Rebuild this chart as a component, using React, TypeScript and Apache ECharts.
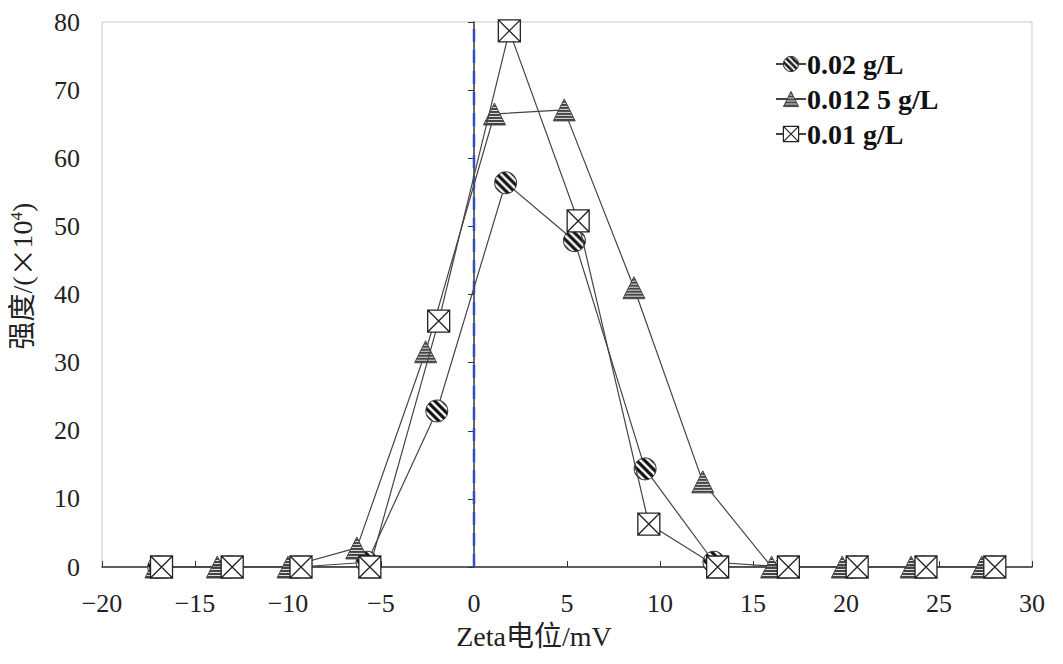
import React, { useEffect, useRef } from "react";
import * as echarts from "echarts";

const seriesNames = ["0.02 g/L", "0.012 5 g/L", "0.01 g/L"];
const xCircle = [-16.95, -13.15, -9.45, -5.75, -2.0, 1.7, 5.4, 9.2, 12.9, 16.75, 20.45, 24.15, 27.85];
const yCircle = [0, 0, 0, 0.7, 22.9, 56.4, 47.9, 14.4, 0.7, 0, 0, 0, 0];
const xTri = [-17.1, -13.8, -10.0, -6.3, -2.6, 1.1, 4.85, 8.6, 12.3, 16.0, 19.8, 23.5, 27.3];
const yTri = [0, 0, 0, 2.8, 31.6, 66.5, 67.1, 41.0, 12.5, 0, 0, 0, 0];
const xSq = [-16.8, -13.0, -9.3, -5.6, -1.9, 1.9, 5.6, 9.4, 13.1, 16.9, 20.6, 24.3, 28.0];
const ySq = [0, 0, 0, 0, 36.1, 78.7, 50.8, 6.3, 0, 0, 0, 0, 0];
const refLineX = [0, 0];
const refLineY = [0, 80];

const SERIF = "'Liberation Serif', 'Times New Roman', serif";
const FONT = "'Liberation Serif', 'Times New Roman', 'Noto Sans CJK SC', serif";
const CJK = "'Noto Sans CJK SC', sans-serif";

function zip(xs: number[], ys: number[]) {
  return xs.map((x, i) => [x, ys[i]]);
}

function stripePattern(): HTMLCanvasElement {
  const c = document.createElement("canvas");
  c.width = 8;
  c.height = 8;
  const ctx = c.getContext("2d")!;
  ctx.fillStyle = "#ffffff";
  ctx.fillRect(0, 0, 8, 8);
  ctx.strokeStyle = "#111";
  ctx.lineWidth = 3.2;
  ctx.beginPath();
  ctx.moveTo(-8, -8);
  ctx.lineTo(16, 16);
  ctx.moveTo(-8, 0);
  ctx.lineTo(8, 16);
  ctx.moveTo(0, -8);
  ctx.lineTo(16, 8);
  ctx.stroke();
  return c;
}

function hLinePattern(): HTMLCanvasElement {
  const c = document.createElement("canvas");
  c.width = 4;
  c.height = 3;
  const ctx = c.getContext("2d")!;
  ctx.fillStyle = "#444";
  ctx.fillRect(0, 0, 4, 3);
  ctx.fillStyle = "#e0e0e0";
  ctx.fillRect(0, 2, 4, 1);
  return c;
}

const squareX = "path://M0,0L20,0L20,20L0,20Z M0,0L20,20 M20,0L0,20";
const SYM = 22;

export default function App() {
  const ref = useRef<HTMLDivElement>(null);
  useEffect(() => {
    if (!ref.current) return;
    const chart = echarts.init(ref.current, undefined, { renderer: "svg" });
    const stripeCanvas = stripePattern();
    const hlineCanvas = hLinePattern();
    const s = 2 / SYM;
    const stripe = { image: stripeCanvas, repeat: "repeat", scaleX: s, scaleY: s };
    const hline = { image: hlineCanvas, repeat: "repeat", scaleX: s, scaleY: s };
    const stripeLegend = { image: stripeCanvas, repeat: "repeat", scaleX: 0.8, scaleY: 0.8 };
    const hlineLegend = { image: hlineCanvas, repeat: "repeat" };
    const lineStyle = { color: "#444", width: 1.2 };
    chart.setOption({
      animation: false,
      backgroundColor: "#fff",
      grid: {
        left: 102,
        right: 31,
        top: 22,
        bottom: 97,
        show: true,
        borderColor: "#c8c8c8",
        borderWidth: 1,
      },
      legend: {
        data: [
          { name: seriesNames[0], itemStyle: { color: stripeLegend, borderColor: "#333", borderWidth: 1 } },
          { name: seriesNames[1], itemStyle: { color: hlineLegend, borderColor: "#444", borderWidth: 1 } },
          { name: seriesNames[2], itemStyle: { color: "#fff", borderColor: "#222", borderWidth: 1.2 } },
        ],
        orient: "vertical",
        left: 770,
        top: 45,
        itemGap: 7,
        itemWidth: 30,
        itemHeight: 19,
        textStyle: { fontFamily: SERIF, fontSize: 28, fontWeight: "bold", color: "#111", padding: [0, 0, 0, -4] },
      },
      xAxis: {
        type: "value",
        min: -20,
        max: 30,
        interval: 5,
        axisLine: { onZero: false, lineStyle: { color: "#333", width: 1.5 } },
        axisTick: { inside: true, length: 6, lineStyle: { color: "#333" } },
        axisLabel: {
          fontFamily: SERIF,
          fontSize: 26,
          color: "#222",
          margin: 23,
          formatter: (v: number) => String(v).replace("-", "−"),
        },
        splitLine: { show: false },
      },
      yAxis: {
        type: "value",
        min: 0,
        max: 80,
        interval: 10,
        axisLine: { show: true, lineStyle: { color: "#333", width: 1.5 } },
        axisTick: { show: true, inside: false, length: 6, lineStyle: { color: "#333" } },
        axisLabel: { fontFamily: SERIF, fontSize: 26, color: "#222", margin: 22 },
        splitLine: { show: false },
      },
      graphic: [
        {
          type: "text",
          x: 534,
          y: 636,
          style: {
            text: "Zeta电位/mV",
            font: `28px ${FONT}`,
            fill: "#222",
            align: "center",
            verticalAlign: "middle",
          },
        },
        {
          type: "text",
          x: 22,
          y: 276,
          rotation: Math.PI / 2,
          style: {
            text: "{a|强度/(}{b|×}{a|10}{c|4}{a|)}",
            align: "center",
            verticalAlign: "middle",
            fill: "#222",
            rich: {
              a: { fontFamily: FONT, fontSize: 28, fill: "#222" },
              b: { fontFamily: CJK, fontSize: 28, fill: "#222" },
              c: { fontFamily: SERIF, fontSize: 17, fill: "#222", verticalAlign: "top", padding: [0, 0, 10, 0] },
            },
          },
        },
      ],
      series: [
        {
          name: "zero",
          type: "line",
          data: zip(refLineX, refLineY),
          symbol: "none",
          lineStyle: { color: "#2f4cc0", width: 2.5, type: [13, 8] },
          z: 1,
          silent: true,
        },
        {
          name: seriesNames[0],
          type: "line",
          data: zip(xCircle, yCircle),
          symbol: "circle",
          symbolSize: SYM,
          showAllSymbol: true,
          lineStyle,
          itemStyle: { color: stripe, borderColor: "#333", borderWidth: 1 },
          z: 2,
        },
        {
          name: seriesNames[1],
          type: "line",
          data: zip(xTri, yTri),
          symbol: "triangle",
          symbolSize: [SYM, SYM],
          showAllSymbol: true,
          lineStyle,
          itemStyle: { color: hline, borderColor: "#444", borderWidth: 1 },
          z: 3,
        },
        {
          name: seriesNames[2],
          type: "line",
          data: zip(xSq, ySq),
          symbol: squareX,
          symbolSize: SYM,
          showAllSymbol: true,
          lineStyle,
          itemStyle: { color: "#fff", borderColor: "#222", borderWidth: 1.3 },
          z: 4,
        },
      ],
    });
    return () => chart.dispose();
  }, []);
  return <div ref={ref} style={{ width: 1063, height: 664, margin: -8 }} />;
}
